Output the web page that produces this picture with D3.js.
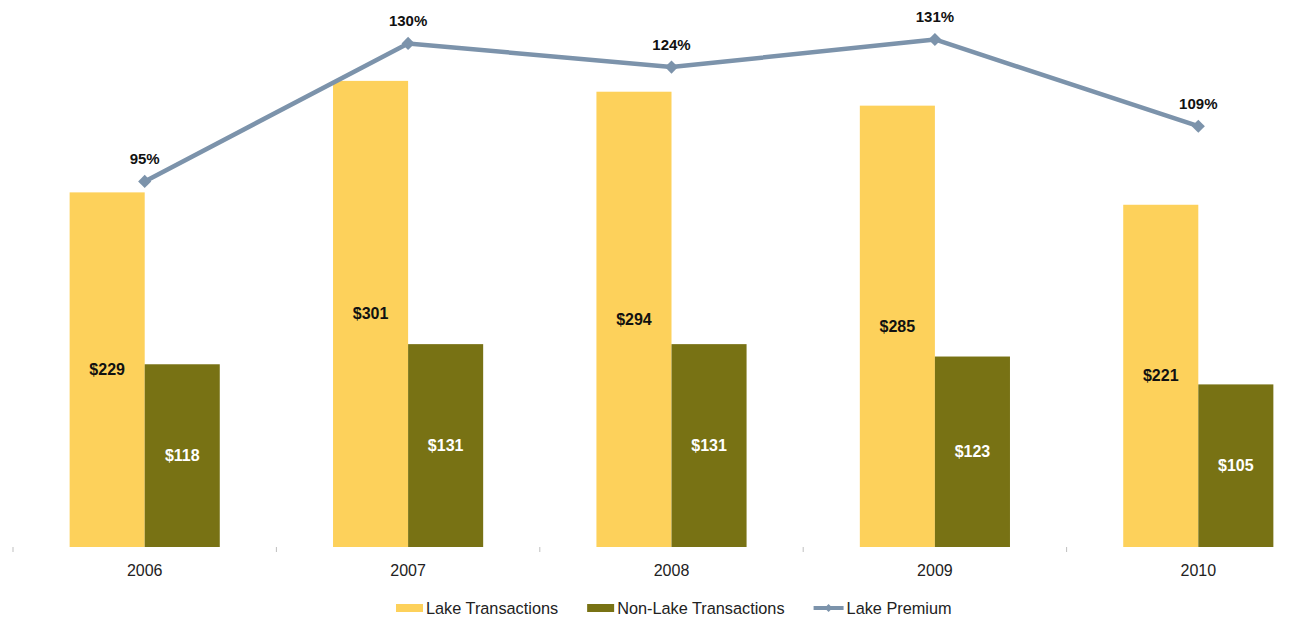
<!DOCTYPE html>
<html>
<head>
<meta charset="utf-8">
<script src="https://cdn.jsdelivr.net/npm/d3@7"></script>
<style>
html,body{margin:0;padding:0;background:#fff;}
svg{display:block;font-family:"Liberation Sans",Arial,sans-serif;}
</style>
</head>
<body>
<svg id="chart" width="1313" height="618"></svg>
<script>
const years = ["2006","2007","2008","2009","2010"];
const lakeTransactions = [229, 301, 294, 285, 221];
const nonLakeTransactions = [118, 131, 131, 123, 105];
const lakePremium = [95, 130, 124, 131, 109];
const seriesNames = ["Lake Transactions","Non-Lake Transactions","Lake Premium"];

const colors = {lake:"#FDD15B", nonLake:"#787214", premium:"#7C93AB"};

const svg = d3.select("#chart");

const x = d3.scaleBand().domain(years).range([13, 1330]).paddingInner(0).paddingOuter(0);
const y = d3.scaleLinear().domain([0, 350]).range([547, 5]);
const y2 = d3.scaleLinear().domain([0, 140]).range([556, 4]);

const bw = x.bandwidth();
const barW = bw * 0.285;

// x axis ticks (no line)
const tickPos = years.map(d => x(d)).concat([x(years[years.length-1]) + bw]);
svg.append("g").selectAll("line").data(tickPos).join("line")
  .attr("x1", d => d).attr("x2", d => d)
  .attr("y1", 547).attr("y2", 552)
  .attr("stroke", "#bfbfbf").attr("stroke-width", 1);

svg.append("g").selectAll("text").data(years).join("text")
  .attr("x", d => x(d) + bw/2).attr("y", 570)
  .attr("text-anchor", "middle").attr("dominant-baseline", "central")
  .attr("font-size", 16).attr("fill", "#222").text(d => d);

const cx = d => x(d) + bw/2;

// Lake bars
svg.append("g").selectAll("rect").data(years).join("rect")
  .attr("x", d => cx(d) - barW).attr("width", barW)
  .attr("y", (d,i) => y(lakeTransactions[i]))
  .attr("height", (d,i) => y(0) - y(lakeTransactions[i]))
  .attr("fill", colors.lake);

// Non-lake bars
svg.append("g").selectAll("rect").data(years).join("rect")
  .attr("x", d => cx(d)).attr("width", barW)
  .attr("y", (d,i) => y(nonLakeTransactions[i]))
  .attr("height", (d,i) => y(0) - y(nonLakeTransactions[i]))
  .attr("fill", colors.nonLake);

// bar labels
svg.append("g").selectAll("text").data(years).join("text")
  .attr("x", d => cx(d) - barW/2)
  .attr("y", (d,i) => (y(lakeTransactions[i]) + y(0))/2)
  .attr("text-anchor","middle").attr("dominant-baseline","central")
  .attr("font-size", 16).attr("font-weight","bold").attr("fill","#111")
  .text((d,i) => "$" + lakeTransactions[i]);

svg.append("g").selectAll("text").data(years).join("text")
  .attr("x", d => cx(d) + barW/2)
  .attr("y", (d,i) => (y(nonLakeTransactions[i]) + y(0))/2)
  .attr("text-anchor","middle").attr("dominant-baseline","central")
  .attr("font-size", 16).attr("font-weight","bold").attr("fill","#fff")
  .text((d,i) => "$" + nonLakeTransactions[i]);

// line
const line = d3.line().x((d,i) => cx(years[i])).y(d => y2(d));
svg.append("path").datum(lakePremium)
  .attr("d", line).attr("fill","none")
  .attr("stroke", colors.premium).attr("stroke-width", 4.5)
  .attr("stroke-linejoin","round");

const diamond = d3.symbol().type(d3.symbolDiamond2).size(110);
svg.append("g").selectAll("path").data(lakePremium).join("path")
  .attr("d", diamond)
  .attr("transform", (d,i) => `translate(${cx(years[i])},${y2(d)})`)
  .attr("fill", colors.premium);

svg.append("g").selectAll("text").data(lakePremium).join("text")
  .attr("x", (d,i) => cx(years[i]))
  .attr("y", d => y2(d) - 23)
  .attr("text-anchor","middle").attr("dominant-baseline","central")
  .attr("font-size", 15).attr("font-weight","bold").attr("fill","#111")
  .text(d => d + "%");

// legend
const lg = svg.append("g");
let lx = 396;
const ly = 608;
seriesNames.forEach((name, i) => {
  if (i < 2) {
    lg.append("rect").attr("x", lx).attr("y", ly - 4).attr("width", 27).attr("height", 8)
      .attr("fill", i === 0 ? colors.lake : colors.nonLake);
  } else {
    lg.append("line").attr("x1", lx).attr("x2", lx + 30).attr("y1", ly).attr("y2", ly)
      .attr("stroke", colors.premium).attr("stroke-width", 4);
    lg.append("path").attr("d", d3.symbol().type(d3.symbolDiamond2).size(40))
      .attr("transform", `translate(${lx+15},${ly})`).attr("fill", colors.premium);
  }
  const sw = i < 2 ? 27 : 30;
  const t = lg.append("text").attr("x", lx + sw + 3).attr("y", ly)
    .attr("dominant-baseline","central").attr("font-size", 16.3).attr("fill","#222")
    .text(name);
  lx = lx + sw + 3 + t.node().getComputedTextLength() + 29;
});
</script>
</body>
</html>
